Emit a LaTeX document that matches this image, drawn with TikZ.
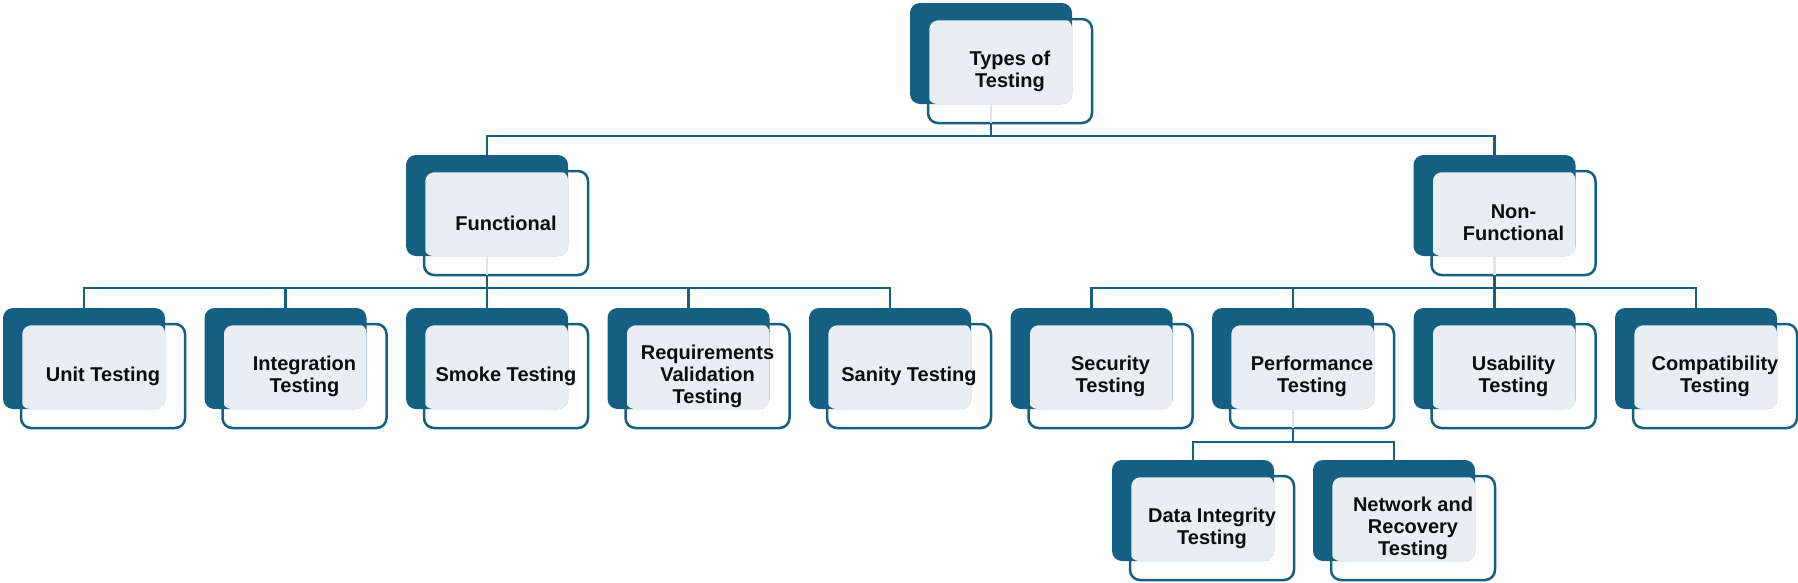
\documentclass[tikz,border=0pt]{standalone}
\usepackage{fontspec}
\setmainfont{Liberation Sans}
\definecolor{darkc}{HTML}{156082}
\definecolor{lightc}{HTML}{E8EEF2}
\definecolor{stubc}{HTML}{DCE5EC}
\tikzset{
  darkbox/.style={fill=darkc, rounded corners=10pt, minimum width=162pt, minimum height=101pt, inner sep=0pt, outer sep=0pt},
  frontbox/.style={draw=darkc, line width=2.5pt, rounded corners=10pt, minimum width=164pt, minimum height=104pt, inner sep=0pt, outer sep=0pt, align=center, text=black!95, font=\bfseries\fontsize{20}{22}\selectfont},
  conn/.style={draw=darkc, line width=2.5pt},
  stubline/.style={draw=stubc, line width=2.5pt}
}
\newcommand\mkbox[4]{%
  \node[darkbox] (#1-d) at ({#2+81},{#3+50.5}) {};
  \fill[lightc, rounded corners=9pt] ({#2+18},{#3+16}) rectangle ({#2+162},{#3+101});
  \node[frontbox] (#1) at ({#2+100},{#3+68}) {#4};
}
\begin{document}
\begin{tikzpicture}[x=1pt,y=-1pt]
\useasboundingbox (0,0) rectangle (1798,582);
\mkbox{top}{910}{3}{Types of\\Testing}
\mkbox{func}{406}{155}{Functional}
\mkbox{nonf}{1413.5}{155}{Non-\\Functional}
\mkbox{unit}{3}{308}{Unit Testing}
\mkbox{integ}{204.5}{308}{Integration\\Testing}
\mkbox{smoke}{406}{308}{Smoke Testing}
\mkbox{req}{607.5}{308}{Requirements\\Validation\\Testing}
\mkbox{sanity}{809}{308}{Sanity Testing}
\mkbox{sec}{1010.5}{308}{Security\\Testing}
\mkbox{perf}{1212}{308}{Performance\\Testing}
\mkbox{usab}{1413.5}{308}{Usability\\Testing}
\mkbox{compat}{1615}{308}{Compatibility\\Testing}
\mkbox{data}{1112}{460}{Data Integrity\\Testing}
\mkbox{netw}{1313}{460}{Network and\\Recovery\\Testing}
\foreach \c in {top,func,nonf,perf}
  \draw[stubline] (\c-d.south) -- ([yshift=-1.5pt]\c-d |- \c.south);
\foreach \c in {func,nonf}
  \draw[conn] (top-d |- top.south) -- ++(0,13) -| (\c-d.north);
\foreach \c in {unit,integ,smoke,req,sanity}
  \draw[conn] (func-d |- func.south) -- ++(0,13) -| (\c-d.north);
\foreach \c in {sec,perf,usab,compat}
  \draw[conn] (nonf-d |- nonf.south) -- ++(0,13) -| (\c-d.north);
\foreach \c in {data,netw}
  \draw[conn] (perf-d |- perf.south) -- ++(0,14) -| (\c-d.north);
\end{tikzpicture}
\end{document}
